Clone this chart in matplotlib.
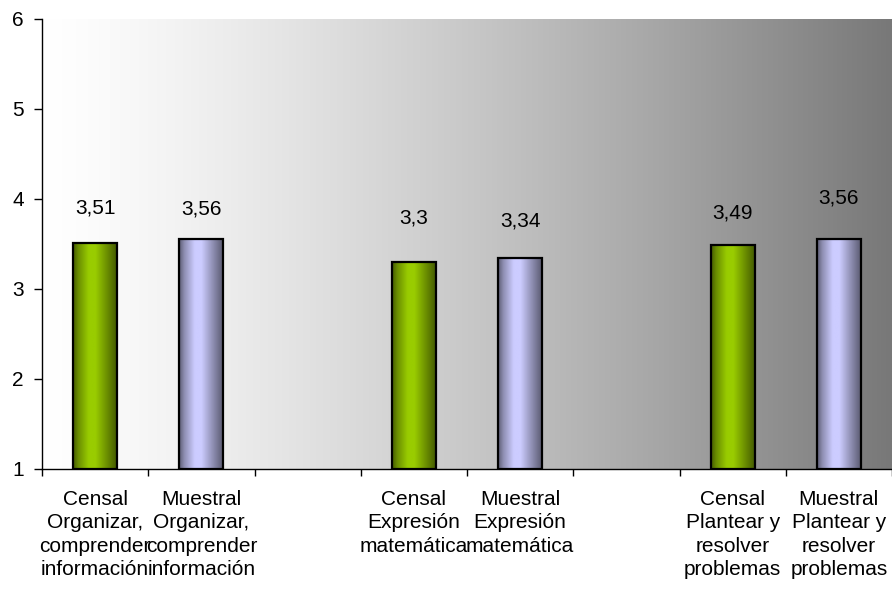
import numpy as np
import matplotlib.pyplot as plt

plt.rcParams['font.family'] = ['Liberation Sans', 'DejaVu Sans']

# chart data
categories = [
    "Censal\nOrganizar,\ncomprender\ninformación",
    "Muestral\nOrganizar,\ncomprender\ninformación",
    "",
    "Censal\nExpresión\nmatemática",
    "Muestral\nExpresión\nmatemática",
    "",
    "Censal\nPlantear y\nresolver\nproblemas",
    "Muestral\nPlantear y\nresolver\nproblemas",
]
values = [3.51, 3.56, None, 3.3, 3.34, None, 3.49, 3.56]
series = ["Censal", "Muestral", None, "Censal", "Muestral", None, "Censal", "Muestral"]

# styling
base_colors = {"Censal": (153, 204, 0), "Muestral": (204, 204, 255)}
label_offsets = [25, 21, 32, 27, 23, 29]  # points above bar top
bar_width = 0.415
fs = 15

fig = plt.figure(figsize=(8.92, 5.95), dpi=100)
ax = fig.add_axes([42 / 892, 126 / 595, 850 / 892, 450 / 595])
ax.set_xlim(0, len(categories))
ax.set_ylim(1, 6)

# grey background gradient, white on the left to dark grey on the right
t = np.linspace(0, 1, 512)
shade = (255 - 135 * t ** 1.3) / 255
bg = np.stack([shade, shade, shade], axis=-1)[None, :, :].repeat(2, axis=0)
ax.imshow(bg, extent=[0, 1, 0, 1], transform=ax.transAxes,
          aspect='auto', zorder=0, interpolation='bilinear')

# cylinder-like shading across each bar
u = np.linspace(0, 1, 200)
profile = np.interp(u, [0, 0.12, 0.35, 0.5, 0.8, 1], [0.45, 0.7, 1.0, 1.0, 0.65, 0.42])

k = 0
for i, (v, s) in enumerate(zip(values, series)):
    if v is None:
        continue
    x = i + 0.5
    base = np.array(base_colors[s]) / 255
    img = (profile[:, None] * base[None, :])[None, :, :].repeat(2, axis=0)
    ax.imshow(img, extent=[x - bar_width / 2, x + bar_width / 2, 1, v],
              aspect='auto', zorder=2, interpolation='bilinear')
    ax.bar(x, v - 1, bottom=1, width=bar_width, facecolor='none',
           edgecolor='black', linewidth=1.6, zorder=3)
    ax.annotate(f"{v:g}".replace('.', ','), xy=(x, v), xytext=(0, label_offsets[k]),
                textcoords='offset points', ha='center', va='center', fontsize=fs)
    k += 1

ax.set_xlim(0, len(categories))
ax.set_ylim(1, 6)

# x axis: tick marks between categories, labels under each slot
ax.set_xticks(np.arange(len(categories) + 1))
ax.set_xticklabels([])
ax.set_xticks(np.arange(len(categories)) + 0.5, minor=True)
ax.set_xticklabels(categories, minor=True, fontsize=fs, linespacing=1.3)
ax.tick_params(axis='x', which='major', length=5, width=1, direction='out')
ax.tick_params(axis='x', which='minor', length=0, pad=15)

ax.set_yticks(range(1, 7))
ax.tick_params(axis='y', length=6, width=1, labelsize=fs, pad=7)

for side in ['top', 'right']:
    ax.spines[side].set_visible(False)
for side in ['left', 'bottom']:
    ax.spines[side].set_linewidth(1)

fig.savefig("out.png", dpi=100)
